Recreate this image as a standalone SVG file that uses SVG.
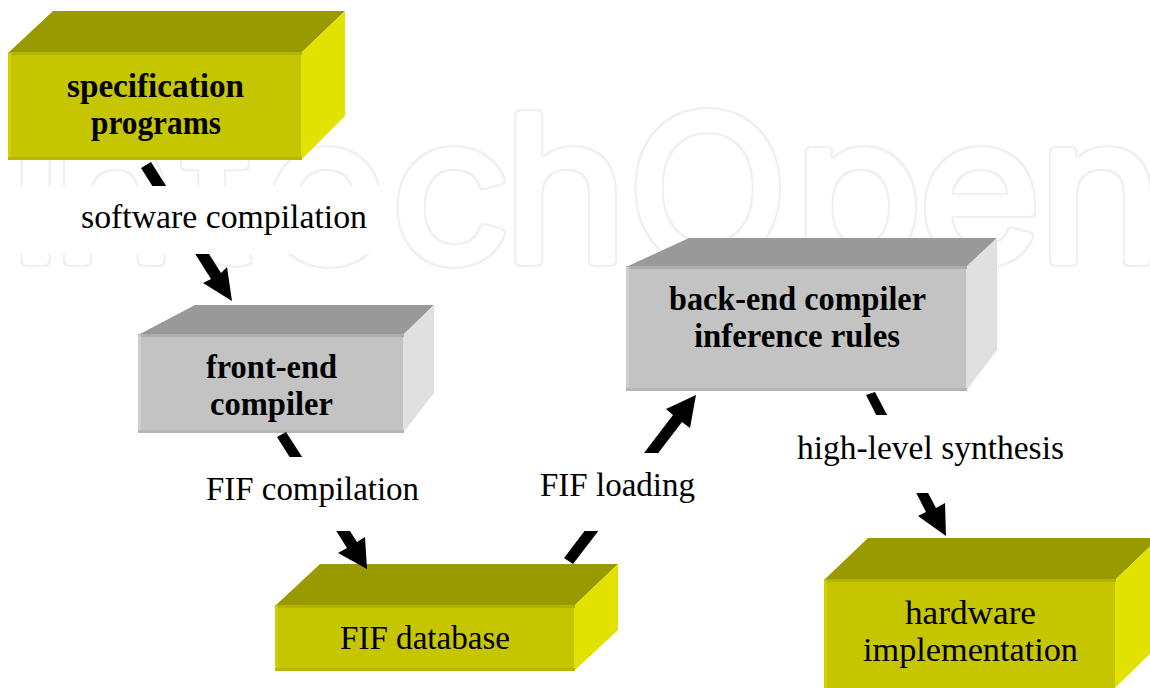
<svg xmlns="http://www.w3.org/2000/svg" width="1150" height="688" viewBox="0 0 1150 688">
<defs>
<filter id="ring" x="-5%" y="-20%" width="110%" height="140%" color-interpolation-filters="sRGB">
<feMorphology in="SourceAlpha" operator="erode" radius="2" result="inner"/>
<feFlood flood-color="#f0f0f0" result="c"/>
<feComposite in="c" in2="SourceAlpha" operator="in" result="outer"/>
<feComposite in="outer" in2="inner" operator="out"/>
</filter>
</defs>
<style>
text{font-family:"Liberation Serif","Times New Roman",serif;fill:#000}
.t{font-size:33px}
.b{font-weight:bold}
text.wm{font-family:Inter,"Open Sans","Liberation Sans",sans-serif;font-size:203px;stroke:#000;stroke-width:10px;stroke-linejoin:round}
.yt{fill:#999900}.yf{fill:#c6c600}.ys{fill:#e2e200}
.gt{fill:#999999}.gf{fill:#c3c3c3}.gs{fill:#e0e0e0}
.yb1{fill:#b3b300}.yb2{fill:#d0d000}.yb3{fill:#bdb500}
.gb1{fill:#adadad}.gb2{fill:#cfcfcf}.gb3{fill:#b5b5b5}
.arrow{fill:#000}
.mask{fill:#fff}
</style>
<g id="watermark" filter="url(#ring)">
<text class="wm" transform="scale(1.04 1)" y="262" x="7 50 176 254 376 484 603 763 883 998">IntechOpen</text>
</g>
<g id="spec">
<polygon class="yt" points="8,53 53,11 345,11 301,53"/>
<polygon class="ys" points="301,53 345,11 345,116 301,160"/>
<rect class="yf" x="8" y="53" width="293" height="107"/>
<rect class="yb1" x="8" y="52" width="294" height="3"/><rect class="yb2" x="8" y="53" width="3" height="107"/><rect class="yb3" x="8" y="157" width="294" height="3"/>
<text class="t b" x="67" y="97" textLength="177" lengthAdjust="spacingAndGlyphs">specification</text>
<text class="t b" x="91" y="134" textLength="130" lengthAdjust="spacingAndGlyphs">programs</text>
</g>
<g id="frontend">
<polygon class="gt" points="138,335 195,305 434,305 403,335"/>
<polygon class="gs" points="403,335 434,305 434,393 403,433"/>
<rect class="gf" x="138" y="335" width="265" height="98"/>
<rect class="gb1" x="138" y="334" width="266" height="3"/><rect class="gb2" x="138" y="335" width="3" height="98"/><rect class="gb3" x="138" y="430" width="266" height="3"/>
<text class="t b" x="206" y="378" textLength="131" lengthAdjust="spacingAndGlyphs">front-end</text>
<text class="t b" x="210" y="415" textLength="123" lengthAdjust="spacingAndGlyphs">compiler</text>
</g>
<g id="backend">
<polygon class="gt" points="626,267 689,238 997,238 966,267"/>
<polygon class="gs" points="966,267 997,238 997,350 966,391"/>
<rect class="gf" x="626" y="267" width="340" height="124"/>
<rect class="gb1" x="626" y="266" width="341" height="3"/><rect class="gb2" x="626" y="267" width="3" height="124"/><rect class="gb3" x="626" y="388" width="341" height="3"/>
<text class="t b" x="669" y="310" textLength="257" lengthAdjust="spacingAndGlyphs">back-end compiler</text>
<text class="t b" x="694" y="347" textLength="206" lengthAdjust="spacingAndGlyphs">inference rules</text>
</g>
<g id="database">
<polygon class="yt" points="275,606 320,564 618,564 574,606"/>
<polygon class="ys" points="574,606 618,564 618,630 574,671"/>
<rect class="yf" x="275" y="606" width="299" height="65"/>
<rect class="yb1" x="275" y="605" width="300" height="3"/><rect class="yb2" x="275" y="606" width="3" height="65"/><rect class="yb3" x="275" y="668" width="300" height="3"/>
<text class="t" x="340" y="649" textLength="170" lengthAdjust="spacingAndGlyphs">FIF database</text>
</g>
<g id="hardware">
<polygon class="yt" points="824,580 868,538 1159,538 1115,580"/>
<polygon class="ys" points="1115,580 1159,538 1159,645 1115,688"/>
<rect class="yf" x="824" y="580" width="291" height="108"/>
<rect class="yb1" x="824" y="579" width="292" height="3"/><rect class="yb2" x="824" y="580" width="3" height="108"/>
<text class="t" x="905" y="624" textLength="131" lengthAdjust="spacingAndGlyphs">hardware</text>
<text class="t" x="863" y="661" textLength="215" lengthAdjust="spacingAndGlyphs">implementation</text>
</g>
<g id="connectors">
<polygon class="arrow" points="141,168 151,162 221,273 227,267 232,301 203,283 211,279"/>
<polygon class="arrow" points="277,437 286,432 357,542 365,537 367,569 338,553 347,548"/>
<polygon class="arrow" points="564,558 673,415 666,409 696,395 690,428 682,422 573,564"/>
<polygon class="arrow" points="866,395 875,392 936,508 945,503 946,536 918,516 926,512"/>
</g>
<g id="labels">
<rect class="mask" x="15" y="186" width="377" height="68"/>
<text class="t" x="81" y="228" textLength="286" lengthAdjust="spacingAndGlyphs">software compilation</text>
<rect class="mask" x="200" y="457" width="225" height="74"/>
<text class="t" x="206" y="500" textLength="213" lengthAdjust="spacingAndGlyphs">FIF compilation</text>
<rect class="mask" x="534" y="453" width="167" height="78"/>
<text class="t" x="540" y="496" textLength="155" lengthAdjust="spacingAndGlyphs">FIF loading</text>
<rect class="mask" x="790" y="415" width="280" height="78"/>
<text class="t" x="797" y="459" textLength="267" lengthAdjust="spacingAndGlyphs">high-level synthesis</text>
</g>
</svg>
